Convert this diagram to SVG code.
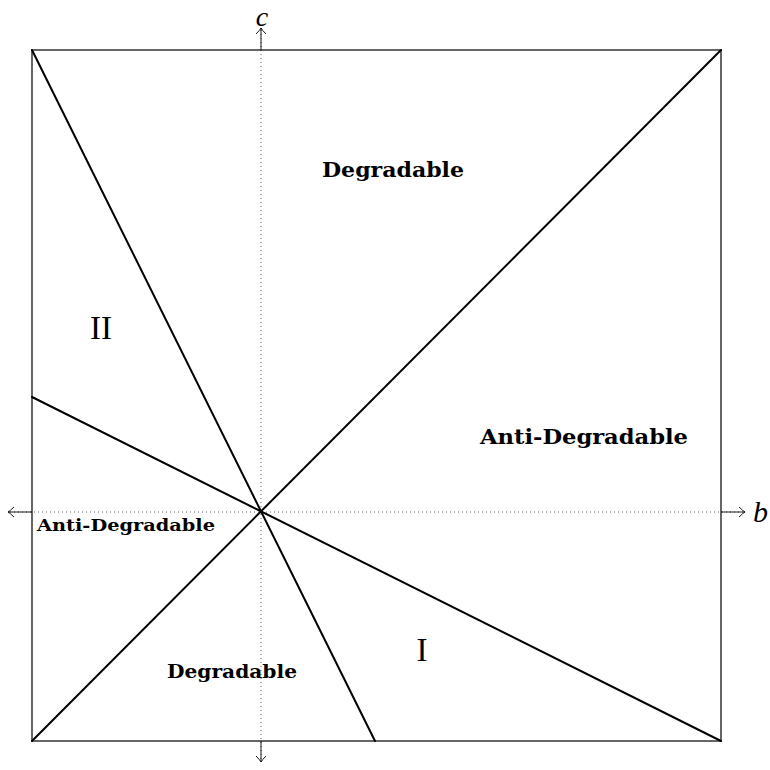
<svg xmlns="http://www.w3.org/2000/svg" width="770" height="770" viewBox="0 0 770 770">
<style>
.ax{stroke:#000;stroke-width:0.8;stroke-dasharray:0.8 3.2;fill:none}
.ah{stroke:#000;stroke-width:0.9;fill:none}
.bd{stroke:#000;stroke-width:1.2;fill:none}
.ln{stroke:#000;stroke-width:2;fill:none;stroke-linecap:round}
.lb{font-family:"DejaVu Serif","Liberation Serif",serif;font-weight:bold;fill:#000}
.rn{font-family:"Liberation Serif","DejaVu Serif",serif;fill:#000}
.it{font-family:"Liberation Serif","DejaVu Serif",serif;font-style:italic;fill:#000}
</style>
<rect fill="#fff" width="770" height="770"/>
<g id="axes">
<line class="ax" x1="10" y1="512" x2="743" y2="512"/>
<line class="ax" x1="261" y1="30" x2="261" y2="760"/>
<line class="ah" x1="8" y1="512" x2="32" y2="512"/>
<line class="ah" x1="721" y1="512" x2="745" y2="512"/>
<line class="ah" x1="261" y1="28" x2="261" y2="50"/>
<line class="ah" x1="261" y1="741" x2="261" y2="762"/>
<path class="ah" d="M14,507 Q10,511 8,512 Q10,513 14,517"/>
<path class="ah" d="M739,507 Q743,511 745,512 Q743,513 739,517"/>
<path class="ah" d="M256,34 Q260,30 261,28 Q262,30 266,34"/>
<path class="ah" d="M256,756 Q260,760 261,762 Q262,760 266,756"/>
<text class="it" x="262" y="26" font-size="28" text-anchor="middle">c</text>
<text class="it" x="753" y="522" font-size="30">b</text>
</g>
<g id="box">
<rect class="bd" x="32" y="50" width="689" height="691"/>
</g>
<g id="connectors">
<line class="ln" x1="32" y1="50" x2="375" y2="741"/>
<line class="ln" x1="32" y1="397" x2="721" y2="741"/>
<line class="ln" x1="32" y1="741" x2="721" y2="50"/>
</g>
<g id="labels">
<text class="lb" x="322" y="177" font-size="20" textLength="142" lengthAdjust="spacingAndGlyphs">Degradable</text>
<text class="lb" x="480" y="444" font-size="20" textLength="208" lengthAdjust="spacingAndGlyphs">Anti-Degradable</text>
<text class="lb" x="37" y="531" font-size="17" textLength="178" lengthAdjust="spacingAndGlyphs">Anti-Degradable</text>
<text class="lb" x="167" y="678" font-size="19" textLength="130" lengthAdjust="spacingAndGlyphs">Degradable</text>
<text class="rn" x="101" y="339" font-size="33" text-anchor="middle">II</text>
<text class="rn" x="422" y="661" font-size="33" text-anchor="middle">I</text>
</g>
</svg>
